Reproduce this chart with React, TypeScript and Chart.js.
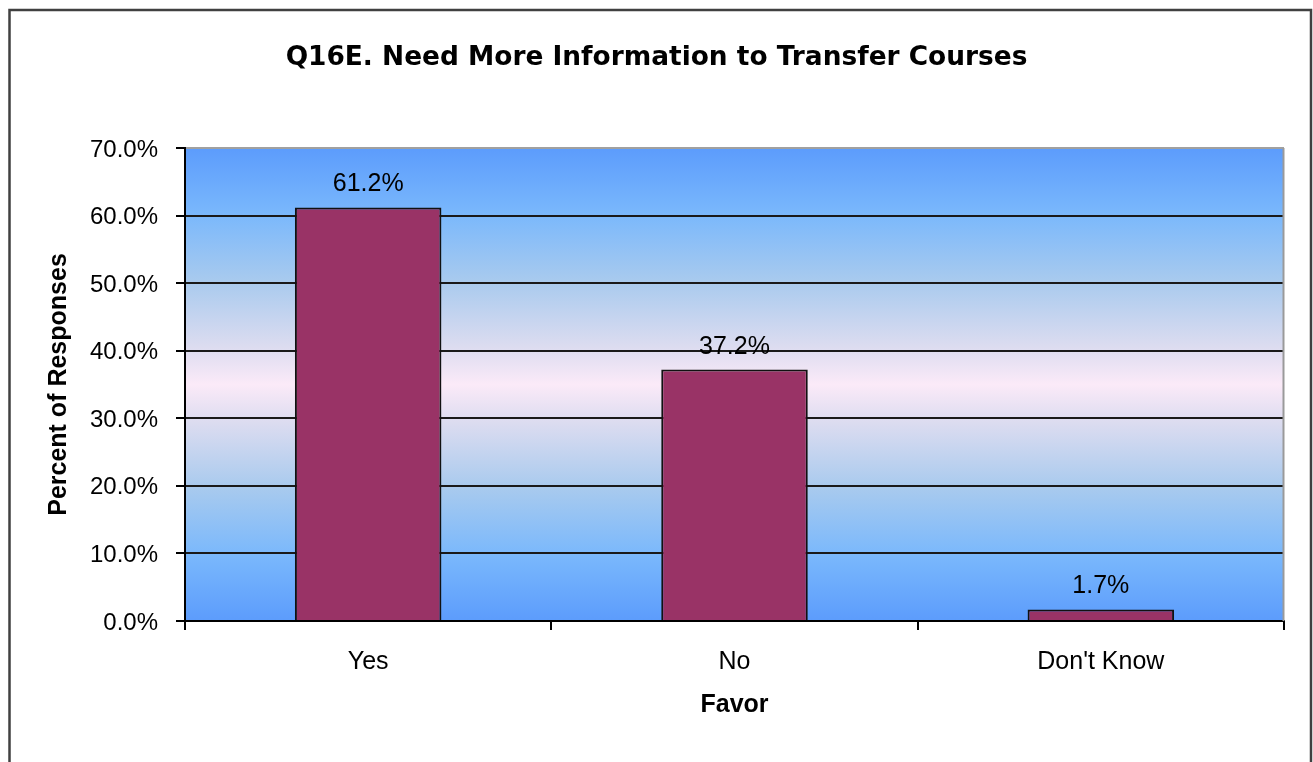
import React, { useEffect, useRef } from 'react';
import { Chart, registerables } from 'chart.js';

Chart.register(...registerables);

const chartTitle = 'Q16E. Need More Information to Transfer Courses';
const categories = ['Yes', 'No', "Don't Know"];
const percentValues = [61.2, 37.2, 1.7];
const yTickValues = [0, 10, 20, 30, 40, 50, 60, 70];
const yAxisTitle = 'Percent of Responses';
const xAxisTitle = 'Favor';

const W = 1313;
const H = 762;

const backgroundPlugin = {
  id: 'excelBackground',
  beforeDraw(chart: any) {
    const { ctx, chartArea: a, width, height } = chart;
    ctx.save();
    ctx.fillStyle = '#ffffff';
    ctx.fillRect(0, 0, width, height);
    const g = ctx.createLinearGradient(0, a.top, 0, a.bottom);
    g.addColorStop(0, '#5c9cfc');
    g.addColorStop(0.14, '#7ab8fc');
    g.addColorStop(0.28, '#a8caee');
    g.addColorStop(0.42, '#dcdcf0');
    g.addColorStop(0.5, '#fbeaf8');
    g.addColorStop(0.58, '#dcdcf0');
    g.addColorStop(0.72, '#a8caee');
    g.addColorStop(0.86, '#7ab8fc');
    g.addColorStop(1, '#5c9cfc');
    ctx.fillStyle = g;
    ctx.fillRect(a.left, a.top, a.right - a.left, a.bottom - a.top);
    ctx.strokeStyle = '#404040';
    ctx.lineWidth = 2.5;
    ctx.strokeRect(9.5, 10, 1301.5, height + 20);
    ctx.restore();
  },
  beforeDatasetsDraw(chart: any) {
    const { ctx, chartArea: a } = chart;
    ctx.save();
    ctx.strokeStyle = '#9a9a9a';
    ctx.lineWidth = 2;
    ctx.beginPath();
    ctx.moveTo(a.right - 0.5, a.top);
    ctx.lineTo(a.right - 0.5, a.bottom);
    ctx.stroke();
    ctx.restore();
  },
};

const dataLabelPlugin = {
  id: 'barValueLabels',
  afterDatasetsDraw(chart: any) {
    const { ctx } = chart;
    const meta = chart.getDatasetMeta(0);
    ctx.save();
    ctx.font = '25px "Liberation Sans", Arial, sans-serif';
    ctx.fillStyle = '#000';
    ctx.textAlign = 'center';
    ctx.textBaseline = 'middle';
    meta.data.forEach((bar: any, i: number) => {
      ctx.fillText(percentValues[i].toFixed(1) + '%', bar.x, bar.y - 23);
    });
    ctx.restore();
  },
};

export default function App() {
  const canvasRef = useRef<HTMLCanvasElement | null>(null);

  useEffect(() => {
    if (!canvasRef.current) return;
    const chart = new Chart(canvasRef.current, {
      type: 'bar',
      data: {
        labels: categories,
        datasets: [
          {
            data: percentValues,
            backgroundColor: '#993366',
            borderColor: '#111111',
            borderWidth: 2,
            categoryPercentage: 0.8,
            barPercentage: 0.5,
          },
        ],
      },
      options: {
        animation: false,
        responsive: false,
        devicePixelRatio: 1,
        layout: { padding: { left: 29, right: 29, top: 0, bottom: 0 } },
        plugins: {
          legend: { display: false },
          tooltip: { enabled: false },
          title: {
            display: true,
            text: chartTitle,
            color: '#000',
            font: { family: '"DejaVu Sans", sans-serif', size: 26.4, weight: 'bold' },
            padding: { top: 42, bottom: 74.3 },
          },
        },
        scales: {
          x: {
            offset: true,
            afterFit: (s: any) => {
              s.height = 141;
            },
            grid: {
              drawOnChartArea: false,
              drawTicks: true,
              tickLength: 9,
              color: '#000',
              tickColor: '#000',
              lineWidth: 2,
              offset: true,
            },
            border: { display: true, color: '#000', width: 2 },
            ticks: {
              color: '#000',
              padding: 17,
              font: { family: '"Liberation Sans", Arial, sans-serif', size: 25 },
            },
            title: {
              display: true,
              text: xAxisTitle,
              color: '#000',
              font: { family: '"Liberation Sans", Arial, sans-serif', size: 25, weight: 'bold' },
              padding: { top: 0, bottom: 42 },
            },
          },
          y: {
            min: 0,
            max: 70,
            afterFit: (s: any) => {
              s.width = 156;
            },
            afterBuildTicks: (s: any) => {
              s.ticks = yTickValues.map((v) => ({ value: v }));
            },
            grid: {
              drawTicks: true,
              tickLength: 9,
              lineWidth: 2,
              color: (c: any) => (c.tick && c.tick.value === 70 ? '#a0a0a0' : '#1a1a1a'),
              tickColor: '#000',
            },
            border: { display: true, color: '#000', width: 2 },
            ticks: {
              color: '#000',
              padding: 18,
              labelOffset: 2,
              font: { family: '"Liberation Sans", Arial, sans-serif', size: 24 },
              callback: (v: any) => Number(v).toFixed(1) + '%',
            },
            title: {
              display: true,
              text: yAxisTitle,
              color: '#000',
              font: { family: '"Liberation Sans", Arial, sans-serif', size: 25, weight: 'bold' },
              padding: { top: 15, bottom: 0 },
            },
          },
        },
      },
      plugins: [backgroundPlugin, dataLabelPlugin],
    } as any);
    return () => chart.destroy();
  }, []);

  return (
    <div style={{ position: 'fixed', left: 0, top: 0, width: W, height: H, background: '#fff' }}>
      <canvas ref={canvasRef} width={W} height={H} style={{ display: 'block', width: W, height: H }} />
    </div>
  );
}
